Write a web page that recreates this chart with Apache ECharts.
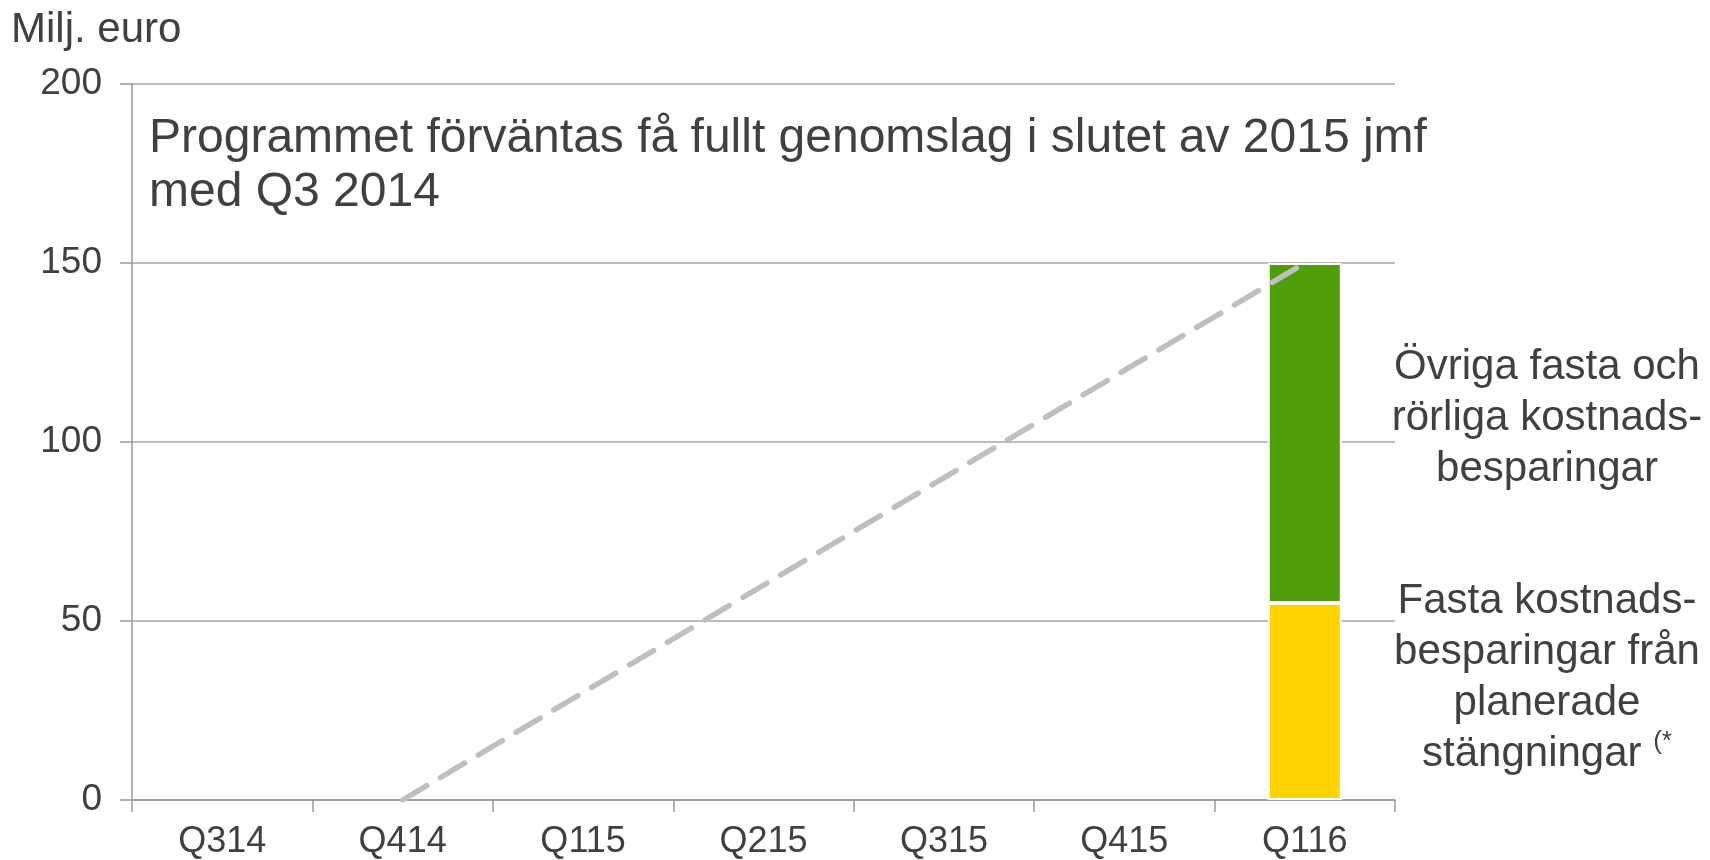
<!DOCTYPE html>
<html>
<head>
<meta charset="UTF-8">
<title>Besparingar</title>
<script src="https://cdn.jsdelivr.net/npm/echarts@6/dist/echarts.min.js"></script>
<style>
  html, body { margin: 0; padding: 0; background: #fff; }
  #chart { width: 1710px; height: 860px; }
</style>
</head>
<body>
<div id="chart"></div>
<script>
// data
var quarters = ['Q314', 'Q414', 'Q115', 'Q215', 'Q315', 'Q415', 'Q116'];
var fastaStangningar = [null, null, null, null, null, null, 55];
var ovrigaBesparingar = [null, null, null, null, null, null, 95];
var rampPoints = [['Q414', 0], ['Q116', 150]];
var yTicks = { min: 0, max: 200, step: 50 };

var textColor = '#404040';
var font = 'Liberation Sans, Arial, sans-serif';

var chart = echarts.init(document.getElementById('chart'));
chart.setOption({
  animation: false,
  backgroundColor: '#fff',
  textStyle: { fontFamily: font },
  title: {
    text: 'Programmet förväntas få fullt genomslag i slutet av 2015 jmf\nmed Q3 2014',
    left: 144,
    top: 107,
    textStyle: { fontFamily: font, fontSize: 48, fontWeight: 'normal', color: textColor, lineHeight: 54 }
  },
  grid: { left: 132, right: 315, top: 84, bottom: 60, containLabel: false },
  xAxis: {
    type: 'category',
    data: quarters,
    boundaryGap: true,
    axisLine: { lineStyle: { color: '#999', width: 1.5 } },
    axisTick: { show: true, length: 12, lineStyle: { color: '#999', width: 1.5 } },
    axisLabel: { color: textColor, fontSize: 36, margin: 24, fontFamily: font }
  },
  yAxis: {
    type: 'value',
    min: yTicks.min,
    max: yTicks.max,
    interval: yTicks.step,
    axisLine: { show: true, lineStyle: { color: '#999', width: 1.5 } },
    axisTick: { show: true, length: 12, lineStyle: { color: '#999', width: 1.5 } },
    axisLabel: { color: textColor, fontSize: 37, margin: 30, fontFamily: font },
    splitLine: { lineStyle: { color: '#a6a6a6', width: 1.5 } }
  },
  series: [
    {
      name: 'Fasta kostnadsbesparingar',
      type: 'bar',
      stack: 'tot',
      barWidth: 74,
      data: fastaStangningar,
      itemStyle: { color: '#fdd400', borderColor: '#fff', borderWidth: 2 },
      z: 2
    },
    {
      name: 'Övriga besparingar',
      type: 'bar',
      stack: 'tot',
      barWidth: 74,
      data: ovrigaBesparingar,
      itemStyle: { color: '#509e0c', borderColor: '#fff', borderWidth: 2 },
      z: 2
    },
    {
      name: 'Ramp',
      type: 'line',
      data: rampPoints,
      symbol: 'none',
      lineStyle: { color: '#bfbfbf', width: 5.5, type: [28, 16], cap: 'round' },
      z: 3
    }
  ],
  graphic: [
    {
      type: 'text',
      left: 11,
      top: 9,
      style: { text: 'Milj. euro', fontFamily: font, fontSize: 42, fill: textColor }
    },
    {
      type: 'text',
      x: 1547,
      y: 418,
      style: {
        text: 'Övriga fasta och\nrörliga kostnads-\nbesparingar',
        fontFamily: font, fontSize: 42, fill: textColor, lineHeight: 51,
        align: 'center', verticalAlign: 'middle'
      }
    },
    {
      type: 'text',
      x: 1547,
      y: 678,
      style: {
        text: 'Fasta kostnads-\nbesparingar från\nplanerade\nstängningar {sup|(*}',
        fontFamily: font, fontSize: 42, fill: textColor, lineHeight: 51,
        align: 'center', verticalAlign: 'middle',
        rich: {
          sup: { fontFamily: font, fontSize: 26, fill: textColor, verticalAlign: 'top', lineHeight: 51, padding: [0, 0, 18, 0] }
        }
      }
    }
  ]
});
</script>
</body>
</html>
